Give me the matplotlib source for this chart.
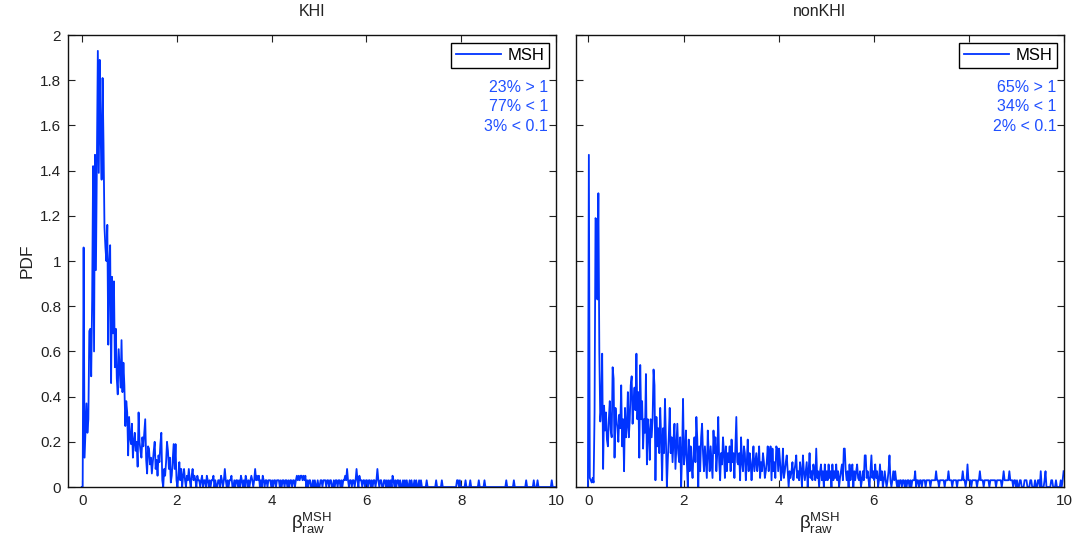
import numpy as np
import matplotlib.pyplot as plt

plt.rcParams['font.family'] = ['Liberation Sans', 'DejaVu Sans']
plt.rcParams['mathtext.fontset'] = 'custom'
plt.rcParams['mathtext.rm'] = 'Liberation Sans'
plt.rcParams['mathtext.it'] = 'Liberation Sans'
plt.rcParams['mathtext.default'] = 'regular'

# PDF of beta_raw, bins 0.02 wide, first bin centred at -0.01
bin_width = 0.02
bin_start = -0.01

pdf_khi = [
    0.00,
    0.00, 1.06, 0.13, 0.25, 0.37, 0.24, 0.30, 0.69, 0.70, 0.49, 0.83, 1.42, 0.60, 1.47, 0.96, 1.43, 1.93, 1.39, 1.89, 1.55, 1.36, 1.81, 1.52, 1.15, 1.06,
    1.00, 1.16, 0.63, 0.99, 1.07, 0.46, 0.93, 0.68, 0.91, 0.53, 0.70, 0.48, 0.41, 0.61, 0.52, 0.44, 0.65, 0.42, 0.55, 0.45, 0.27, 0.38, 0.33, 0.14, 0.31,
    0.22, 0.19, 0.28, 0.13, 0.20, 0.24, 0.16, 0.20, 0.09, 0.33, 0.20, 0.16, 0.13, 0.22, 0.18, 0.24, 0.30, 0.12, 0.06, 0.18, 0.17, 0.10, 0.13, 0.06, 0.11,
    0.16, 0.20, 0.08, 0.12, 0.05, 0.14, 0.11, 0.19, 0.24, 0.03, 0.00, 0.08, 0.05, 0.11, 0.20, 0.16, 0.08, 0.13, 0.02, 0.05, 0.12, 0.19, 0.08, 0.19, 0.03,
    0.00, 0.05, 0.11, 0.03, 0.08, 0.00, 0.05, 0.08, 0.03, 0.00, 0.05, 0.03, 0.08, 0.03, 0.00, 0.05, 0.08, 0.03, 0.05, 0.03, 0.00, 0.05, 0.03, 0.03, 0.00,
    0.03, 0.05, 0.00, 0.03, 0.03, 0.00, 0.05, 0.03, 0.00, 0.03, 0.00, 0.03, 0.03, 0.05, 0.00, 0.03, 0.00, 0.00, 0.03, 0.03, 0.00, 0.05, 0.03, 0.00, 0.03,
    0.08, 0.03, 0.00, 0.03, 0.00, 0.03, 0.03, 0.05, 0.00, 0.00, 0.03, 0.00, 0.03, 0.03, 0.00, 0.03, 0.00, 0.05, 0.03, 0.00, 0.03, 0.00, 0.05, 0.03, 0.00,
    0.03, 0.00, 0.03, 0.05, 0.03, 0.00, 0.03, 0.08, 0.03, 0.05, 0.03, 0.05, 0.00, 0.03, 0.00, 0.05, 0.03, 0.00, 0.03, 0.03, 0.00, 0.03, 0.03, 0.03, 0.00,
    0.03, 0.00, 0.03, 0.03, 0.00, 0.03, 0.03, 0.03, 0.00, 0.03, 0.00, 0.03, 0.03, 0.00, 0.03, 0.03, 0.00, 0.03, 0.00, 0.03, 0.03, 0.00, 0.03, 0.03, 0.00,
    0.03, 0.05, 0.03, 0.05, 0.03, 0.05, 0.05, 0.03, 0.05, 0.03, 0.05, 0.00, 0.03, 0.00, 0.03, 0.03, 0.00, 0.00, 0.03, 0.00, 0.03, 0.00, 0.00, 0.03, 0.00,
    0.00, 0.03, 0.03, 0.00, 0.03, 0.03, 0.03, 0.00, 0.03, 0.03, 0.00, 0.03, 0.03, 0.00, 0.00, 0.03, 0.00, 0.03, 0.03, 0.00, 0.03, 0.03, 0.00, 0.03, 0.00,
    0.03, 0.03, 0.05, 0.03, 0.08, 0.03, 0.00, 0.03, 0.03, 0.00, 0.03, 0.03, 0.00, 0.03, 0.08, 0.03, 0.00, 0.05, 0.03, 0.03, 0.00, 0.03, 0.03, 0.00, 0.03,
    0.03, 0.00, 0.03, 0.03, 0.00, 0.03, 0.00, 0.03, 0.03, 0.00, 0.03, 0.08, 0.03, 0.00, 0.03, 0.03, 0.00, 0.00, 0.03, 0.03, 0.00, 0.03, 0.00, 0.03, 0.00,
    0.03, 0.00, 0.05, 0.03, 0.00, 0.03, 0.00, 0.03, 0.03, 0.00, 0.03, 0.00, 0.00, 0.03, 0.00, 0.03, 0.00, 0.03, 0.00, 0.00, 0.03, 0.00, 0.03, 0.00, 0.00,
    0.03, 0.00, 0.03, 0.00, 0.00, 0.03, 0.00, 0.03, 0.00, 0.00, 0.00, 0.00, 0.00, 0.03, 0.00, 0.00, 0.00, 0.00, 0.00, 0.00, 0.00, 0.00, 0.00, 0.03, 0.00,
    0.00, 0.00, 0.00, 0.00, 0.03, 0.00, 0.00, 0.00, 0.00, 0.00, 0.00, 0.00, 0.00, 0.00, 0.00, 0.00, 0.00, 0.00, 0.00, 0.00, 0.03, 0.03, 0.00, 0.03, 0.00,
    0.00, 0.00, 0.00, 0.00, 0.03, 0.00, 0.00, 0.00, 0.00, 0.03, 0.00, 0.00, 0.00, 0.00, 0.00, 0.00, 0.00, 0.00, 0.03, 0.00, 0.00, 0.00, 0.00, 0.00, 0.03,
    0.00, 0.00, 0.00, 0.00, 0.00, 0.00, 0.00, 0.00, 0.00, 0.00, 0.00, 0.00, 0.00, 0.00, 0.00, 0.00, 0.00, 0.00, 0.00, 0.00, 0.00, 0.00, 0.03, 0.00, 0.00,
    0.00, 0.00, 0.00, 0.00, 0.00, 0.03, 0.00, 0.00, 0.00, 0.00, 0.00, 0.00, 0.00, 0.00, 0.00, 0.00, 0.00, 0.00, 0.03, 0.00, 0.00, 0.00, 0.00, 0.00, 0.00,
    0.00, 0.03, 0.00, 0.00, 0.00, 0.03, 0.00, 0.00, 0.00, 0.00, 0.00, 0.00, 0.00, 0.00, 0.00, 0.00, 0.00, 0.00, 0.00, 0.00, 0.03, 0.00, 0.00, 0.00, 0.00,
]

pdf_nonkhi = [
    0.00,
    1.47, 0.04, 0.03, 0.02, 0.04, 0.02, 0.33, 1.19, 1.18, 0.83, 1.30, 0.60, 0.29, 0.35, 0.59, 0.08, 0.36, 0.25, 0.33, 0.21, 0.18, 0.30, 0.38, 0.25, 0.22,
    0.53, 0.48, 0.13, 0.35, 0.30, 0.26, 0.20, 0.32, 0.26, 0.45, 0.18, 0.30, 0.07, 0.35, 0.22, 0.27, 0.42, 0.22, 0.30, 0.45, 0.49, 0.28, 0.38, 0.44, 0.34,
    0.59, 0.30, 0.42, 0.13, 0.54, 0.30, 0.38, 0.17, 0.30, 0.24, 0.50, 0.10, 0.30, 0.25, 0.12, 0.30, 0.22, 0.30, 0.52, 0.45, 0.03, 0.31, 0.18, 0.26, 0.15,
    0.35, 0.22, 0.03, 0.26, 0.15, 0.39, 0.21, 0.00, 0.12, 0.22, 0.35, 0.15, 0.22, 0.11, 0.21, 0.28, 0.08, 0.18, 0.28, 0.15, 0.11, 0.22, 0.00, 0.15, 0.39,
    0.10, 0.15, 0.25, 0.11, 0.00, 0.21, 0.07, 0.18, 0.10, 0.04, 0.15, 0.22, 0.11, 0.31, 0.21, 0.00, 0.18, 0.07, 0.22, 0.28, 0.15, 0.07, 0.18, 0.11, 0.04,
    0.25, 0.15, 0.07, 0.18, 0.11, 0.04, 0.25, 0.15, 0.22, 0.07, 0.15, 0.31, 0.11, 0.03, 0.15, 0.10, 0.22, 0.15, 0.04, 0.18, 0.07, 0.15, 0.11, 0.18, 0.07,
    0.21, 0.11, 0.15, 0.04, 0.18, 0.31, 0.11, 0.10, 0.15, 0.03, 0.22, 0.11, 0.07, 0.18, 0.15, 0.03, 0.11, 0.21, 0.07, 0.15, 0.11, 0.03, 0.10, 0.18, 0.07,
    0.11, 0.15, 0.07, 0.11, 0.18, 0.04, 0.11, 0.07, 0.15, 0.11, 0.04, 0.07, 0.11, 0.18, 0.07, 0.15, 0.18, 0.03, 0.17, 0.07, 0.11, 0.04, 0.18, 0.17, 0.07,
    0.17, 0.11, 0.03, 0.07, 0.17, 0.04, 0.07, 0.11, 0.14, 0.07, 0.00, 0.07, 0.04, 0.07, 0.11, 0.03, 0.07, 0.10, 0.14, 0.04, 0.07, 0.03, 0.11, 0.07, 0.00,
    0.14, 0.07, 0.03, 0.07, 0.11, 0.00, 0.07, 0.15, 0.04, 0.07, 0.03, 0.10, 0.07, 0.03, 0.17, 0.04, 0.07, 0.00, 0.07, 0.10, 0.03, 0.07, 0.00, 0.10, 0.03,
    0.07, 0.03, 0.10, 0.04, 0.07, 0.00, 0.10, 0.03, 0.07, 0.04, 0.10, 0.03, 0.07, 0.00, 0.04, 0.07, 0.10, 0.03, 0.17, 0.17, 0.07, 0.03, 0.07, 0.00, 0.10,
    0.03, 0.07, 0.10, 0.00, 0.07, 0.03, 0.07, 0.10, 0.04, 0.03, 0.07, 0.00, 0.03, 0.07, 0.03, 0.14, 0.14, 0.04, 0.07, 0.03, 0.00, 0.07, 0.14, 0.04, 0.07,
    0.03, 0.10, 0.04, 0.07, 0.00, 0.03, 0.10, 0.03, 0.07, 0.00, 0.03, 0.07, 0.03, 0.00, 0.03, 0.07, 0.14, 0.03, 0.00, 0.03, 0.07, 0.03, 0.07, 0.03, 0.00,
    0.03, 0.00, 0.03, 0.03, 0.00, 0.03, 0.03, 0.00, 0.03, 0.00, 0.03, 0.03, 0.00, 0.03, 0.00, 0.03, 0.03, 0.03, 0.07, 0.00, 0.03, 0.03, 0.00, 0.03, 0.03,
    0.00, 0.03, 0.03, 0.03, 0.00, 0.03, 0.03, 0.03, 0.03, 0.00, 0.03, 0.03, 0.03, 0.03, 0.03, 0.07, 0.03, 0.03, 0.00, 0.03, 0.03, 0.03, 0.03, 0.03, 0.00,
    0.03, 0.03, 0.03, 0.07, 0.03, 0.03, 0.03, 0.00, 0.03, 0.03, 0.03, 0.03, 0.00, 0.03, 0.03, 0.03, 0.03, 0.03, 0.07, 0.03, 0.03, 0.00, 0.03, 0.10, 0.03,
    0.03, 0.03, 0.00, 0.03, 0.03, 0.03, 0.03, 0.03, 0.00, 0.03, 0.03, 0.07, 0.03, 0.03, 0.03, 0.00, 0.03, 0.03, 0.03, 0.03, 0.03, 0.00, 0.03, 0.03, 0.03,
    0.03, 0.03, 0.03, 0.00, 0.03, 0.03, 0.03, 0.03, 0.03, 0.00, 0.03, 0.07, 0.03, 0.03, 0.03, 0.03, 0.03, 0.07, 0.03, 0.03, 0.03, 0.00, 0.03, 0.03, 0.00,
    0.03, 0.00, 0.00, 0.03, 0.03, 0.00, 0.00, 0.00, 0.03, 0.03, 0.03, 0.00, 0.00, 0.00, 0.03, 0.03, 0.00, 0.00, 0.00, 0.03, 0.00, 0.00, 0.03, 0.03, 0.00,
    0.07, 0.00, 0.00, 0.00, 0.03, 0.07, 0.00, 0.00, 0.00, 0.00, 0.00, 0.03, 0.03, 0.00, 0.00, 0.00, 0.03, 0.00, 0.00, 0.00, 0.00, 0.03, 0.00, 0.03, 0.07,
]

titles = ['KHI', 'nonKHI']
stats_khi = ['23% > 1', '77% < 1', '3% < 0.1']
stats_nonkhi = ['65% > 1', '34% < 1', '2% < 0.1']
xlims = [(-0.3, 10), (-0.26, 10)]

line_color = '#0033ff'
text_color = '#2050ff'


def panel(ax, pdf, title, stats, xlim, show_ylabels):
    x = bin_start + bin_width * np.arange(len(pdf))
    ax.plot(x, pdf, color=line_color, lw=1.3, label='MSH')
    ax.set_xlim(*xlim)
    ax.set_ylim(0, 2)
    ax.set_xticks(np.arange(0, 11, 2))
    ax.set_yticks(np.arange(0, 2.01, 0.2))
    ax.set_yticklabels(['0', '0.2', '0.4', '0.6', '0.8', '1', '1.2', '1.4', '1.6', '1.8', '2'])
    if not show_ylabels:
        ax.set_yticklabels([])
    ax.tick_params(direction='in', top=True, right=True, length=5, width=0.8,
                   labelsize=11, colors='#222222', pad=5)
    for s in ax.spines.values():
        s.set_linewidth(1.0)
        s.set_color('#111111')
    ax.set_title(title, fontsize=11.5, color='#222222', pad=14)
    ax.set_xlabel(r'$\beta^{MSH}_{raw}$', fontsize=13.5, color='#222222', labelpad=2)
    leg = ax.legend(loc='upper right', bbox_to_anchor=(0.986, 0.982), borderaxespad=0,
                    fontsize=12, handlelength=2.7, handletextpad=0.4, borderpad=0.3,
                    fancybox=False, framealpha=1, edgecolor='black')
    leg.get_frame().set_linewidth(1.0)
    for k, s in enumerate(stats):
        ax.text(0.984, 0.884 - 0.043 * k, s, transform=ax.transAxes, ha='right', va='center',
                fontsize=11.5, color=text_color)


fig = plt.figure(figsize=(10.86, 5.4), dpi=100)
ax1 = fig.add_axes([0.0626, 0.0981, 0.4494, 0.837])
ax2 = fig.add_axes([0.5304, 0.0981, 0.4494, 0.837])

panel(ax1, pdf_khi, titles[0], stats_khi, xlims[0], True)
panel(ax2, pdf_nonkhi, titles[1], stats_nonkhi, xlims[1], False)
ax1.set_ylabel('PDF', fontsize=12.5, color='#222222', labelpad=4)

fig.savefig('out.png', dpi=100)
